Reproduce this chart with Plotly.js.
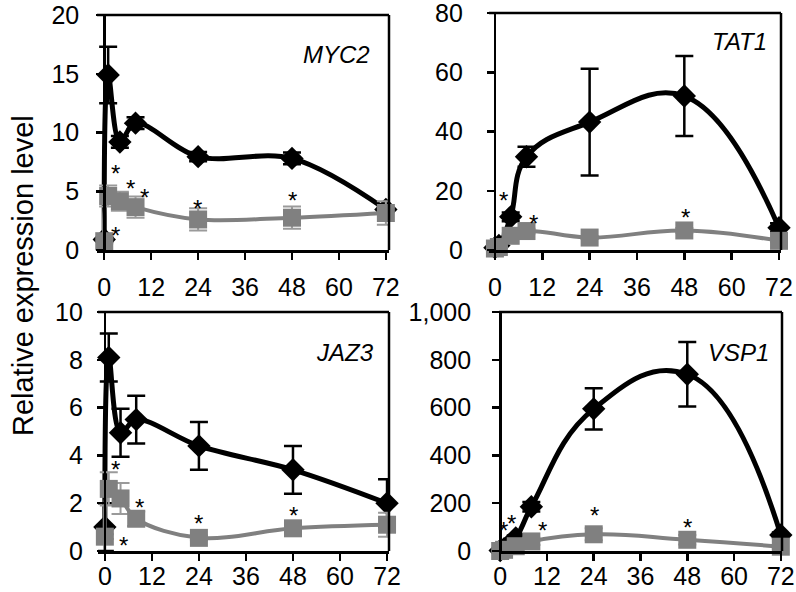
<!DOCTYPE html>
<html>
<head>
<meta charset="utf-8">
<script src="https://cdn.plot.ly/plotly-3.0.1.min.js"></script>
<style>html,body{margin:0;padding:0;background:#fff;}#chart{width:796px;height:592px;}</style>
</head>
<body>
<div id="chart"></div>
<script>
// ---- data ----
var time = [0, 1, 4, 8, 24, 48, 72];
var xTicks = [0, 12, 24, 36, 48, 60, 72];
var genes = ["MYC2", "TAT1", "JAZ3", "VSP1"];

var myc2Black = [0.9, 14.9, 9.2, 10.8, 7.95, 7.8, 3.45];
var myc2BlackErr = [0.2, 2.4, 0.5, 0.5, 0.4, 0.5, 0.3];
var myc2Gray = [0.75, 4.6, 4.15, 3.65, 2.6, 2.75, 3.15];
var myc2GrayErr = [0.2, 0.9, 0.8, 0.9, 0.95, 0.95, 1.0];
var myc2StarX = [2.8, 6.8, 10.4, 23.9, 48.2, 2.8];
var myc2StarY = [7.1, 5.8, 5.05, 4.1, 4.8, 1.85];

var tat1Black = [0.8, 1.5, 11.2, 31.5, 43.2, 52.0, 7.5];
var tat1BlackErr = [0.2, 0.4, 1.5, 3.4, 18.0, 13.5, 1.5];
var tat1Gray = [0.5, 1.0, 4.8, 6.4, 4.2, 6.6, 3.1];
var tat1GrayErr = [0.1, 0.3, 0.8, 0.8, 0.5, 0.8, 0.5];
var tat1StarX = [2.1, 9.7, 48.4];
var tat1StarY = [19.2, 11.3, 13.5];

var jaz3Black = [1.0, 8.1, 4.95, 5.5, 4.4, 3.4, 2.0];
var jaz3BlackErr = [1.0, 1.0, 1.0, 1.0, 1.0, 1.0, 1.0];
var jaz3Gray = [0.6, 2.6, 2.2, 1.35, 0.55, 0.95, 1.1];
var jaz3GrayErr = [0.1, 0.7, 0.65, 0.3, 0.1, 0.2, 0.5];
var jaz3StarX = [2.8, 8.8, 4.85, 23.8, 48.1];
var jaz3StarY = [3.7, 2.13, 0.53, 1.43, 1.79];

var vsp1Black = [2, 10, 55, 185, 595, 740, 67];
var vsp1BlackErr = [1, 3, 10, 20, 86, 135, 10];
var vsp1Gray = [0, 5, 20, 40, 70, 47, 18];
var vsp1GrayErr = [0, 2, 8, 15, 25, 20, 8];
var vsp1StarX = [0.85, 3.0, 10.9, 24.2, 48.0];
var vsp1StarY = [116, 144, 116, 179, 126];

var yMax = [20, 80, 10, 1000];
var yStep = [5, 20, 2, 200];
var yTitle = "Relative expression level";

// ---- layout geometry (pixels) ----
var W = 796, H = 592;
var panels = [
  {l: 97, r: 389, t: 15, b: 250, xr: [-1.85, 72.8], standoff: 12, xstand: 6, smooth: 1},
  {l: 489, r: 781, t: 13, b: 250, xr: [-1.5, 72.5], standoff: 19, xstand: 6, smooth: 1.2},
  {l: 98, r: 389, t: 312, b: 551, xr: [-1.75, 72.5], standoff: 9, xstand: -6, smooth: 1},
  {l: 499, r: 782, t: 312, b: 551, xr: [-0.3, 72.3], standoff: 16, xstand: -6, smooth: 1.3}
];
var labelPos = [[372, 54], [769, 41], [376, 352], [771, 352]];

var series = [
  [myc2Black, myc2BlackErr, myc2Gray, myc2GrayErr, myc2StarX, myc2StarY],
  [tat1Black, tat1BlackErr, tat1Gray, tat1GrayErr, tat1StarX, tat1StarY],
  [jaz3Black, jaz3BlackErr, jaz3Gray, jaz3GrayErr, jaz3StarX, jaz3StarY],
  [vsp1Black, vsp1BlackErr, vsp1Gray, vsp1GrayErr, vsp1StarX, vsp1StarY]
];

var FONT = "Liberation Sans, Arial, sans-serif";
var BLACK = "#000000", GRAY = "#808080";

var traces = [];
var layout = {
  width: W, height: H,
  margin: {l: 0, r: 0, t: 0, b: 0},
  paper_bgcolor: "#ffffff", plot_bgcolor: "rgba(0,0,0,0)",
  showlegend: false,
  font: {family: FONT, color: "#000"},
  shapes: [], annotations: []
};

for (var i = 0; i < 4; i++) {
  var p = panels[i];
  var xn = i === 0 ? "x" : "x" + (i + 1);
  var yn = i === 0 ? "y" : "y" + (i + 1);
  var xk = i === 0 ? "xaxis" : "xaxis" + (i + 1);
  var yk = i === 0 ? "yaxis" : "yaxis" + (i + 1);
  var d = series[i];
  var dx0 = p.l / W, dx1 = p.r / W;
  var dy0 = 1 - p.b / H, dy1 = 1 - p.t / H;
  var yAxisPos = dx0 + (0 - p.xr[0]) / (p.xr[1] - p.xr[0]) * (dx1 - dx0);
  var yTickVals = [];
  for (var v = 0; v <= yMax[i] + 1e-9; v += yStep[i]) yTickVals.push(v);

  traces.push({
    x: time, y: d[0], xaxis: xn, yaxis: yn, type: "scatter", mode: "lines+markers",
    line: {color: BLACK, width: 5, shape: "spline", smoothing: p.smooth},
    marker: {symbol: "diamond", size: 18, color: BLACK},
    error_y: {type: "data", array: d[1], visible: true, color: BLACK, thickness: 2.5, width: 9},
    cliponaxis: false, hoverinfo: "skip"
  });
  traces.push({
    x: time, y: d[2], xaxis: xn, yaxis: yn, type: "scatter", mode: "lines+markers",
    line: {color: GRAY, width: 4, shape: "spline", smoothing: p.smooth},
    marker: {symbol: "square", size: 18, color: GRAY},
    error_y: {type: "data", array: d[3], visible: true, color: "#9a9a9a", thickness: 2, width: 9},
    cliponaxis: false, hoverinfo: "skip"
  });

  layout[xk] = {
    domain: [dx0, dx1], range: p.xr, anchor: yn,
    tickmode: "array", tickvals: xTicks, ticktext: xTicks.map(String),
    ticks: "outside", ticklen: 7, tickwidth: 2.5, tickcolor: BLACK,
    showline: true, linecolor: BLACK, linewidth: 2.5,
    showgrid: false, zeroline: false,
    tickfont: {family: FONT, size: 25, color: BLACK},
    ticklabelstandoff: p.xstand, ticklabeloverflow: "allow", fixedrange: true
  };
  layout[yk] = {
    domain: [dy0, dy1], range: [0, yMax[i] * 1.0005], anchor: "free", position: yAxisPos,
    tickmode: "array", tickvals: yTickVals,
    ticktext: yTickVals.map(function (t) { return t.toLocaleString("en-US"); }),
    ticks: "outside", ticklen: 7, tickwidth: 2.5, tickcolor: BLACK,
    showline: true, linecolor: BLACK, linewidth: 2.5,
    showgrid: false, zeroline: false,
    tickfont: {family: FONT, size: 25, color: BLACK},
    ticklabelstandoff: p.standoff, ticklabeloverflow: "allow", fixedrange: true
  };

  var xd = xn + " domain", yd = yn + " domain";
  layout.shapes.push({type: "line", xref: xd, yref: yd, x0: 0, x1: 1, y0: 1, y1: 1, line: {color: BLACK, width: 2.5}});
  layout.shapes.push({type: "line", xref: xd, yref: yd, x0: 1, x1: 1, y0: 0, y1: 1, line: {color: BLACK, width: 2.5}});

  layout.annotations.push({
    text: "<i>" + genes[i] + "</i>", xref: "paper", yref: "paper",
    x: labelPos[i][0] / W, y: 1 - labelPos[i][1] / H, xanchor: "right", yanchor: "middle",
    showarrow: false, font: {family: FONT, size: 24, color: BLACK}
  });
  for (var k = 0; k < d[4].length; k++) {
    layout.annotations.push({
      text: "*", xref: xn, yref: yn, x: d[4][k], y: d[5][k],
      xanchor: "center", yanchor: "middle", yshift: -7,
      showarrow: false, font: {family: FONT, size: 24, color: BLACK}
    });
  }
}

layout.annotations.push({
  text: yTitle, xref: "paper", yref: "paper", x: 23 / W, y: 1 - 276 / H,
  xanchor: "center", yanchor: "middle", textangle: -90, showarrow: false,
  font: {family: FONT, size: 29, color: BLACK}
});

Plotly.newPlot("chart", traces, layout, {staticPlot: true, displayModeBar: false});
</script>
</body>
</html>
